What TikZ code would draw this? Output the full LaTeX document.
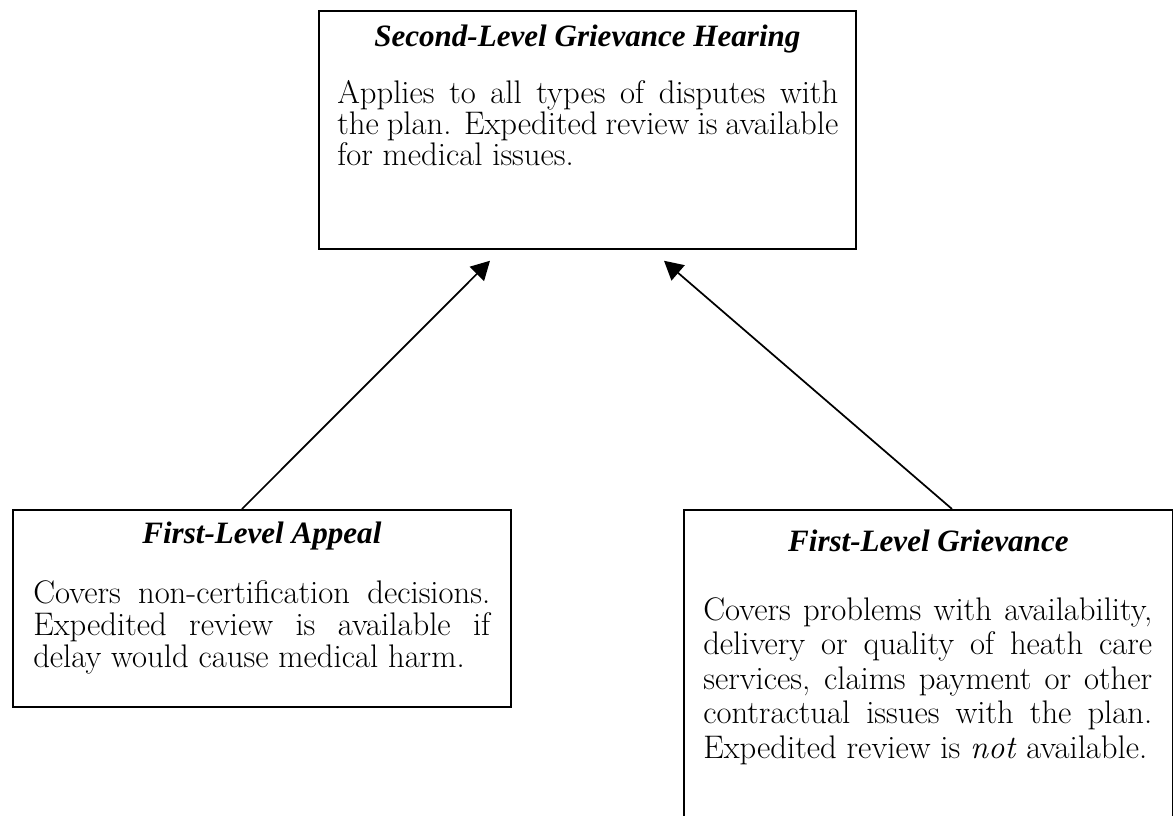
\documentclass[tikz,border=0pt]{standalone}
\usepackage{fontspec}
\newfontfamily\headfont{Liberation Serif}
\usepackage{tikz}
\usetikzlibrary{arrows.meta,positioning,calc}
\tikzset{
  panel/.style={draw=black,line width=1.3pt,inner sep=0pt,anchor=north west},
  heading/.style={font=\headfont\fontsize{23.3}{27}\selectfont\bfseries\itshape,anchor=base,inner sep=0pt},
  blurb/.style={align=justify,inner sep=0pt,anchor=base west},
  link/.style={-{Triangle[length=14pt,width=15pt]},draw=black,line width=1.3pt}
}

\begin{document}
\begin{tikzpicture}
        \useasboundingbox (0,0) rectangle (879.75pt,-611.25pt);
        \clip (0,0) rectangle (879.75pt,-611.25pt);
        % boxes
        \node[panel,minimum width=402.75pt,minimum height=178.5pt] (hearing) at (238.5pt,-7.5pt) {};
        \node[panel,minimum width=373.5pt,minimum height=147.75pt] (appeal) at (9pt,-381.75pt) {};
        \node[panel,minimum width=366.75pt,minimum height=270pt] (grievance) at (512.25pt,-381.75pt) {};
        % titles
        \node[heading] (hearingTitle) at ($(hearing.north)+(0,-27pt)$) {Second-Level Grievance Hearing};
        \node[heading] (appealTitle) at ($(appeal.north)+(0,-26pt)$) {First-Level Appeal};
        \node[heading] (grievanceTitle) at ($(grievance.north)+(0,-32pt)$) {First-Level Grievance};
        % texts
        \node[blurb,text width=375.75pt,font=\fontsize{24.5}{23.25}\selectfont] (hearingText) at ($(hearing.north west)+(14.25pt,-69.75pt)$)
          {Applies to all types of disputes with\linebreak the plan. Expedited review is available\linebreak for medical issues.};
        \node[blurb,text width=342.75pt,font=\fontsize{24.5}{24}\selectfont] (appealText) at ($(appeal.north west)+(15.75pt,-71pt)$)
          {Covers non-certification decisions.\linebreak Expedited review is available if\linebreak delay would cause medical harm.};
        \node[blurb,text width=336.75pt,font=\fontsize{24.5}{25.9}\selectfont] (grievanceText) at ($(grievance.north west)+(15pt,-83.25pt)$)
          {Covers problems with availability,\linebreak delivery or quality of heath care\linebreak services, claims payment or other\linebreak contractual issues with the plan.\linebreak Expedited review is \textit{not} available.};
        % arrows
        \draw[link] ($(appeal.north west)+(172.5pt,0)$) -- ($(hearing.south west)+(129pt,-8.25pt)$);
        \draw[link] ($(grievance.north west)+(201.75pt,0)$) -- ($(hearing.south west)+(259.5pt,-8.25pt)$);
      \end{tikzpicture}
\end{document}
